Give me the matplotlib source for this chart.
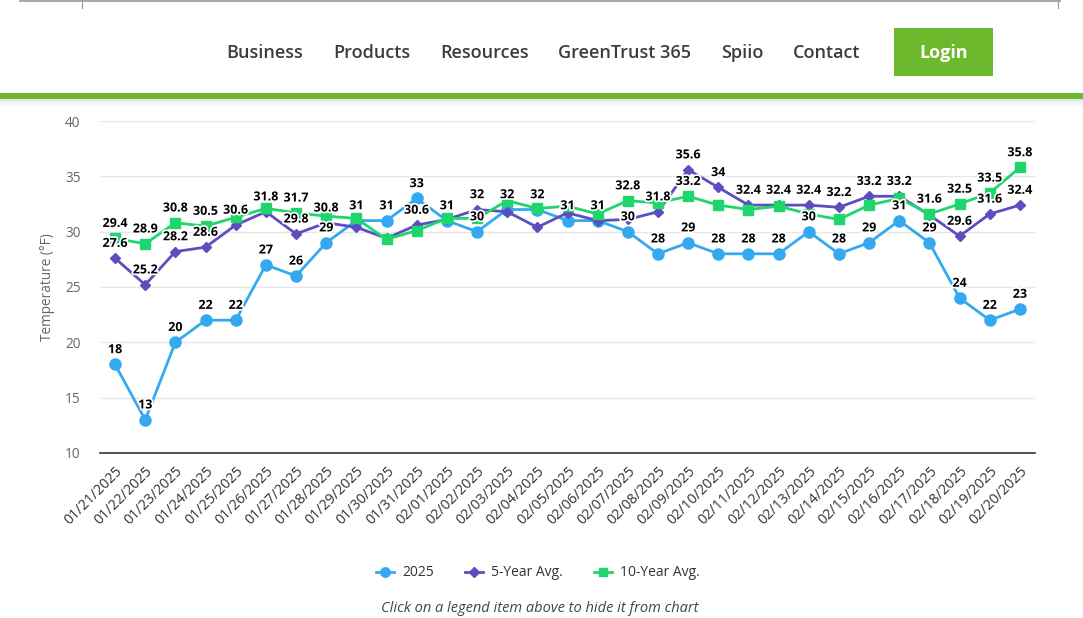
import matplotlib
matplotlib.use('Agg')
import matplotlib.pyplot as plt
from matplotlib.patches import Rectangle
from matplotlib.lines import Line2D
import matplotlib.patheffects as pe

plt.rcParams['font.family'] = ['Open Sans', 'DejaVu Sans']

### data

dates = ['01/21/2025', '01/22/2025', '01/23/2025', '01/24/2025', '01/25/2025', '01/26/2025',
         '01/27/2025', '01/28/2025', '01/29/2025', '01/30/2025', '01/31/2025', '02/01/2025',
         '02/02/2025', '02/03/2025', '02/04/2025', '02/05/2025', '02/06/2025', '02/07/2025',
         '02/08/2025', '02/09/2025', '02/10/2025', '02/11/2025', '02/12/2025', '02/13/2025',
         '02/14/2025', '02/15/2025', '02/16/2025', '02/17/2025', '02/18/2025', '02/19/2025',
         '02/20/2025']

temp_2025 = [18, 13, 20, 22, 22, 27, 26, 29, 31, 31, 33, 31, 30, 32, 32, 31,
             31, 30, 28, 29, 28, 28, 28, 30, 28, 29, 31, 29, 24, 22, 23]
avg_5yr = [27.6, 25.2, 28.2, 28.6, 30.6, 31.8, 29.8, 30.8, 30.4, 29.4, 30.6, 31.1, 32, 31.8, 30.4, 31.7,
           31.0, 31.1, 31.8, 35.6, 34, 32.4, 32.4, 32.4, 32.2, 33.2, 33.2, 31.5, 29.6, 31.6, 32.4]
avg_10yr = [29.4, 28.9, 30.8, 30.5, 31.3, 32.1, 31.7, 31.4, 31.2, 29.3, 30.1, 31.2, 31.2, 32.8, 32.1, 32.3,
            31.6, 32.8, 32.6, 33.2, 32.4, 32.0, 32.3, 31.6, 31.1, 32.4, 33.0, 31.6, 32.5, 33.5, 35.8]

# which data labels stay visible (the chart hides overlapping ones)
shown_2025 = list(range(31))
shown_5yr = [0, 1, 2, 3, 4, 5, 6, 7, 10, 12, 18, 19, 20, 21, 22, 23, 24, 25, 26, 28, 29, 30]
shown_10yr = [0, 1, 2, 3, 6, 17, 19, 27, 28, 29, 30]

series_names = ['2025', '5-Year Avg.', '10-Year Avg.']
nav_items = ['Business', 'Products', 'Resources', 'GreenTrust 365', 'Spiio', 'Contact']

colors = ['#34a9ef', '#5b4fc0', '#1ed66c']
brand_green = '#6cb92d'


def fmt(v):
    return ('%g' % v)


def main():
    W, H = 1083, 618
    fig = plt.figure(figsize=(W / 100, H / 100), dpi=100)

    ### page chrome (header, nav, green bar)
    bg = fig.add_axes([0, 0, 1, 1])
    bg.set_xlim(0, W)
    bg.set_ylim(H, 0)
    bg.axis('off')
    bg.plot([20, 1060], [1, 1], color='#999999', lw=1.2)
    bg.plot([82, 82], [0, 8], color='#999999', lw=0.8)
    bg.plot([1058, 1058], [0, 8], color='#999999', lw=0.8)

    nav_x = [265, 372, 485, 625, 742, 827]
    for name, x in zip(nav_items, nav_x):
        bg.text(x, 53, name, ha='center', va='center', fontsize=13, fontweight='semibold', color='#3c3c3c')
    bg.add_patch(Rectangle((894, 28), 99, 48, color=brand_green, lw=0))
    bg.text(943.5, 53, 'Login', ha='center', va='center', fontsize=13, fontweight='bold', color='white')
    bg.add_patch(Rectangle((0, 93), W, 6, color=brand_green, lw=0))
    for k, a in enumerate([0.10, 0.06, 0.035, 0.015]):
        bg.add_patch(Rectangle((0, 99 + k * 2), W, 2, color='black', alpha=a, lw=0))

    bg.text(540, 609, 'Click on a legend item above to hide it from chart', ha='center', va='center',
            fontsize=10.5, style='italic', color='#444444')

    ### chart
    left, right, top, bottom = 100, 1035, 121, 453
    ax = fig.add_axes([left / W, 1 - bottom / H, (right - left) / W, (bottom - top) / H])
    x = list(range(len(dates)))

    styles = [dict(marker='o', ms=8), dict(marker='D', ms=5.5), dict(marker='s', ms=7.5)]
    data = [temp_2025, avg_5yr, avg_10yr]
    shown = [shown_2025, shown_5yr, shown_10yr]
    handles = []
    for i, (vals, st) in enumerate(zip(data, styles)):
        ax.plot(x, vals, color=colors[i], lw=2, marker=st['marker'], ms=st['ms'],
                mec=colors[i], mfc=colors[i], zorder=3 + i, label=series_names[i])
        handles.append(Line2D([0], [0], color=colors[i], lw=2, marker=st['marker'], ms=st['ms'] * 0.85))

    for i, vals in enumerate(data):
        for j in shown[i]:
            ax.annotate(fmt(vals[j]), (x[j], vals[j]), xytext=(0, 6), textcoords='offset points',
                        ha='center', va='bottom', fontsize=9, fontweight='bold', color='black', zorder=10,
                        path_effects=[pe.withStroke(linewidth=2.5, foreground='white')])

    ax.set_xlim(-0.5, len(dates) - 0.5)
    ax.set_ylim(10, 40)
    ax.set_yticks([10, 15, 20, 25, 30, 35, 40])
    ax.grid(axis='y', color='#e6e6e6', lw=1)
    ax.set_axisbelow(True)
    for s in ['top', 'right', 'left']:
        ax.spines[s].set_visible(False)
    ax.spines['bottom'].set_color('#333333')
    ax.spines['bottom'].set_linewidth(1.2)
    ax.set_xticks(x)
    ax.set_xticklabels(dates, rotation=45, ha='right', rotation_mode='anchor', fontsize=10.3, color='#333333')
    ax.tick_params(axis='x', length=0, pad=8)
    ax.tick_params(axis='y', length=0, pad=14, labelsize=9.8, labelcolor='#666666')
    ax.set_ylabel('Temperature (°F)', fontsize=9.8, color='#666666', labelpad=7)
    ax.patch.set_alpha(0)

    fig.legend(handles, series_names, loc='center', bbox_to_anchor=(538 / W, 1 - 573 / H), ncol=3,
               frameon=False, fontsize=10, handlelength=1.3, columnspacing=2.2, handletextpad=0.6,
               labelcolor='#333333')

    fig.savefig('out.png', dpi=100)


if __name__ == "__main__":
    main()
